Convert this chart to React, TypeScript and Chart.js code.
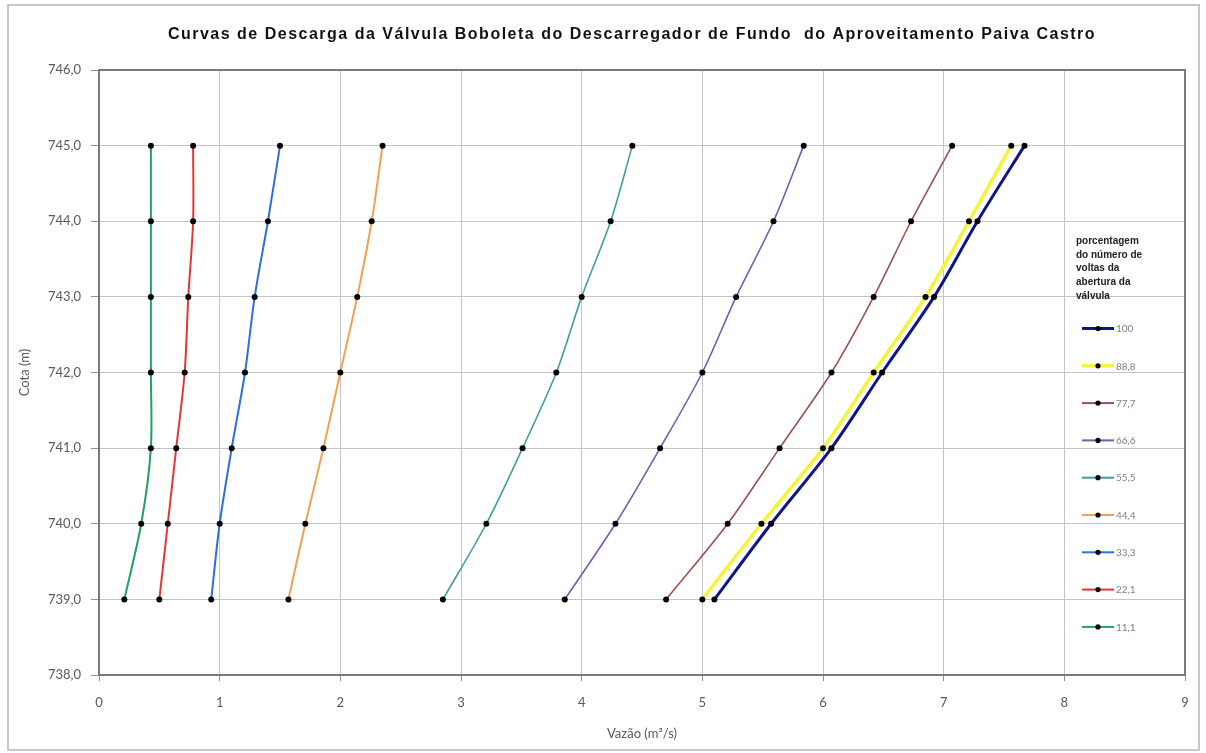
import React, { useEffect, useRef } from "react";
import { Chart, registerables } from "chart.js";

Chart.register(...registerables);

// Cotas (m) at which the discharge was computed
const cotas = [739, 740, 741, 742, 743, 744, 745];

// Discharge (m³/s) for each valve opening, one value per cota
const vazao100 = [5.1, 5.57, 6.07, 6.49, 6.92, 7.28, 7.67];
const vazao888 = [5.0, 5.49, 6.0, 6.42, 6.85, 7.21, 7.56];
const vazao777 = [4.7, 5.21, 5.64, 6.07, 6.42, 6.73, 7.07];
const vazao666 = [3.86, 4.28, 4.65, 5.0, 5.28, 5.59, 5.84];
const vazao555 = [2.85, 3.21, 3.51, 3.79, 4.0, 4.24, 4.42];
const vazao444 = [1.57, 1.71, 1.86, 2.0, 2.14, 2.26, 2.35];
const vazao333 = [0.93, 1.0, 1.1, 1.21, 1.29, 1.4, 1.5];
const vazao221 = [0.5, 0.57, 0.64, 0.71, 0.74, 0.78, 0.78];
const vazao111 = [0.21, 0.35, 0.43, 0.43, 0.43, 0.43, 0.43];

const serieLabels = ["100", "88,8", "77,7", "66,6", "55,5", "44,4", "33,3", "22,1", "11,1"];
const serieValues = [vazao100, vazao888, vazao777, vazao666, vazao555, vazao444, vazao333, vazao221, vazao111];
const serieColors = ["#10148a", "#f4f43a", "#9a5250", "#7a5ab0", "#3f9ea0", "#f2a052", "#2c6fe0", "#e03838", "#22a062"];
const serieWidths = [3, 3.5, 1.6, 1.6, 1.6, 2, 2, 2, 2];

const xTickValues = [0, 1, 2, 3, 4, 5, 6, 7, 8, 9];
const yTickValues = [738, 739, 740, 741, 742, 743, 744, 745, 746];

const titulo = "Curvas de Descarga da Válvula Boboleta do Descarregador de Fundo  do Aproveitamento Paiva Castro";
const legendaTitulo = ["porcentagem", "do número de", "voltas da", "abertura da", "válvula"];

const AXIS_FONT = "Lato, 'Open Sans', sans-serif";

const titlePlugin = {
  id: "tituloCurvas",
  afterDraw(chart: any) {
    const ctx = chart.ctx;
    ctx.save();
    ctx.font = "bold 16px 'Liberation Sans', Arial, sans-serif";
    (ctx as any).letterSpacing = "1.5px";
    ctx.fillStyle = "#111";
    ctx.textAlign = "center";
    ctx.textBaseline = "middle";
    ctx.fillText(titulo, 632, 35);
    ctx.restore();
  },
};

const framePlugin = {
  id: "molduraPlot",
  beforeDatasetsDraw(chart: any) {
    const { ctx, chartArea } = chart;
    ctx.save();
    ctx.strokeStyle = "#7a7a7a";
    ctx.lineWidth = 2;
    ctx.strokeRect(chartArea.left, chartArea.top, chartArea.right - chartArea.left, chartArea.bottom - chartArea.top);
    ctx.restore();
  },
};

const legendPlugin = {
  id: "legendaValvula",
  afterDraw(chart: any) {
    const { ctx, chartArea } = chart;
    const right = chartArea.right;
    const top = chartArea.top;
    ctx.save();
    ctx.font = "bold 10px 'Liberation Sans', Arial, sans-serif";
    ctx.fillStyle = "#222";
    ctx.textAlign = "left";
    ctx.textBaseline = "middle";
    legendaTitulo.forEach((line, i) => {
      ctx.fillText(line, right - 109, top + 171 + i * 13.8);
    });
    ctx.font = "10px " + AXIS_FONT;
    serieLabels.forEach((lab, i) => {
      const y = top + 258.5 + i * 37.3;
      ctx.strokeStyle = serieColors[i];
      ctx.lineWidth = Math.max(2, serieWidths[i]);
      ctx.beginPath();
      ctx.moveTo(right - 103, y);
      ctx.lineTo(right - 71, y);
      ctx.stroke();
      ctx.fillStyle = "#000";
      ctx.beginPath();
      ctx.arc(right - 87, y, 2.6, 0, Math.PI * 2);
      ctx.fill();
      ctx.fillStyle = "#808080";
      ctx.fillText(lab, right - 69, y + 0.5);
    });
    ctx.restore();
  },
};

export default function App() {
  const canvasRef = useRef<HTMLCanvasElement | null>(null);

  useEffect(() => {
    const canvas = canvasRef.current;
    if (!canvas) return;

    const datasets = serieLabels.map((label, i) => ({
      label,
      data: serieValues[i].map((v, j) => ({ x: v, y: cotas[j] })),
      showLine: true,
      borderColor: serieColors[i],
      borderWidth: serieWidths[i],
      tension: 0.3,
      pointRadius: 3,
      pointBackgroundColor: "#000",
      pointBorderColor: "#000",
      pointBorderWidth: 0,
    }));

    const chart = new Chart(canvas, {
      type: "scatter",
      data: { datasets },
      plugins: [titlePlugin, framePlugin, legendPlugin],
      options: {
        animation: false,
        responsive: false,
        layout: { padding: { left: 0, right: 21, top: 70, bottom: 0 } },
        plugins: {
          legend: { display: false },
          title: { display: false },
          tooltip: { enabled: false },
        },
        scales: {
          x: {
            type: "linear",
            min: 0,
            max: 9,
            afterBuildTicks: (scale: any) => {
              scale.ticks = xTickValues.map((v) => ({ value: v }));
            },
            afterFit: (scale: any) => {
              scale.height = 78;
            },
            grid: { color: "#c4c4c4", lineWidth: 1, tickLength: 6, tickColor: "#909090" },
            border: { display: true, color: "#7a7a7a", width: 2 },
            ticks: {
              padding: 14,
              color: "#595959",
              font: { family: AXIS_FONT, size: 13 },
              callback: (v: any) => String(v),
            },
            title: {
              display: true,
              text: "Vazão (m³/s)",
              color: "#595959",
              font: { family: AXIS_FONT, size: 13 },
              padding: { top: 0, bottom: 11 },
            },
          },
          y: {
            type: "linear",
            min: 738,
            max: 746,
            afterBuildTicks: (scale: any) => {
              scale.ticks = yTickValues.map((v) => ({ value: v }));
            },
            afterFit: (scale: any) => {
              scale.width = 99;
            },
            grid: { color: "#c4c4c4", lineWidth: 1, tickLength: 8, tickColor: "#909090" },
            border: { display: true, color: "#7a7a7a", width: 2 },
            ticks: {
              padding: 10,
              color: "#595959",
              font: { family: AXIS_FONT, size: 13 },
              callback: (v: any) => Number(v).toFixed(1).replace(".", ","),
            },
            title: {
              display: true,
              text: "Cota (m)",
              color: "#595959",
              font: { family: AXIS_FONT, size: 13 },
              padding: { top: 17, bottom: 0 },
            },
          },
        },
      },
    });

    return () => chart.destroy();
  }, []);

  return (
    <>
      <div
        style={{
          position: "fixed",
          left: 7,
          top: 4,
          width: 1193,
          height: 747,
          boxSizing: "border-box",
          border: "2px solid #c8c8c8",
          background: "#fff",
        }}
      />
      <canvas
        ref={canvasRef}
        width={1206}
        height={753}
        style={{ position: "fixed", left: 0, top: 0, width: 1206, height: 753 }}
      />
    </>
  );
}
